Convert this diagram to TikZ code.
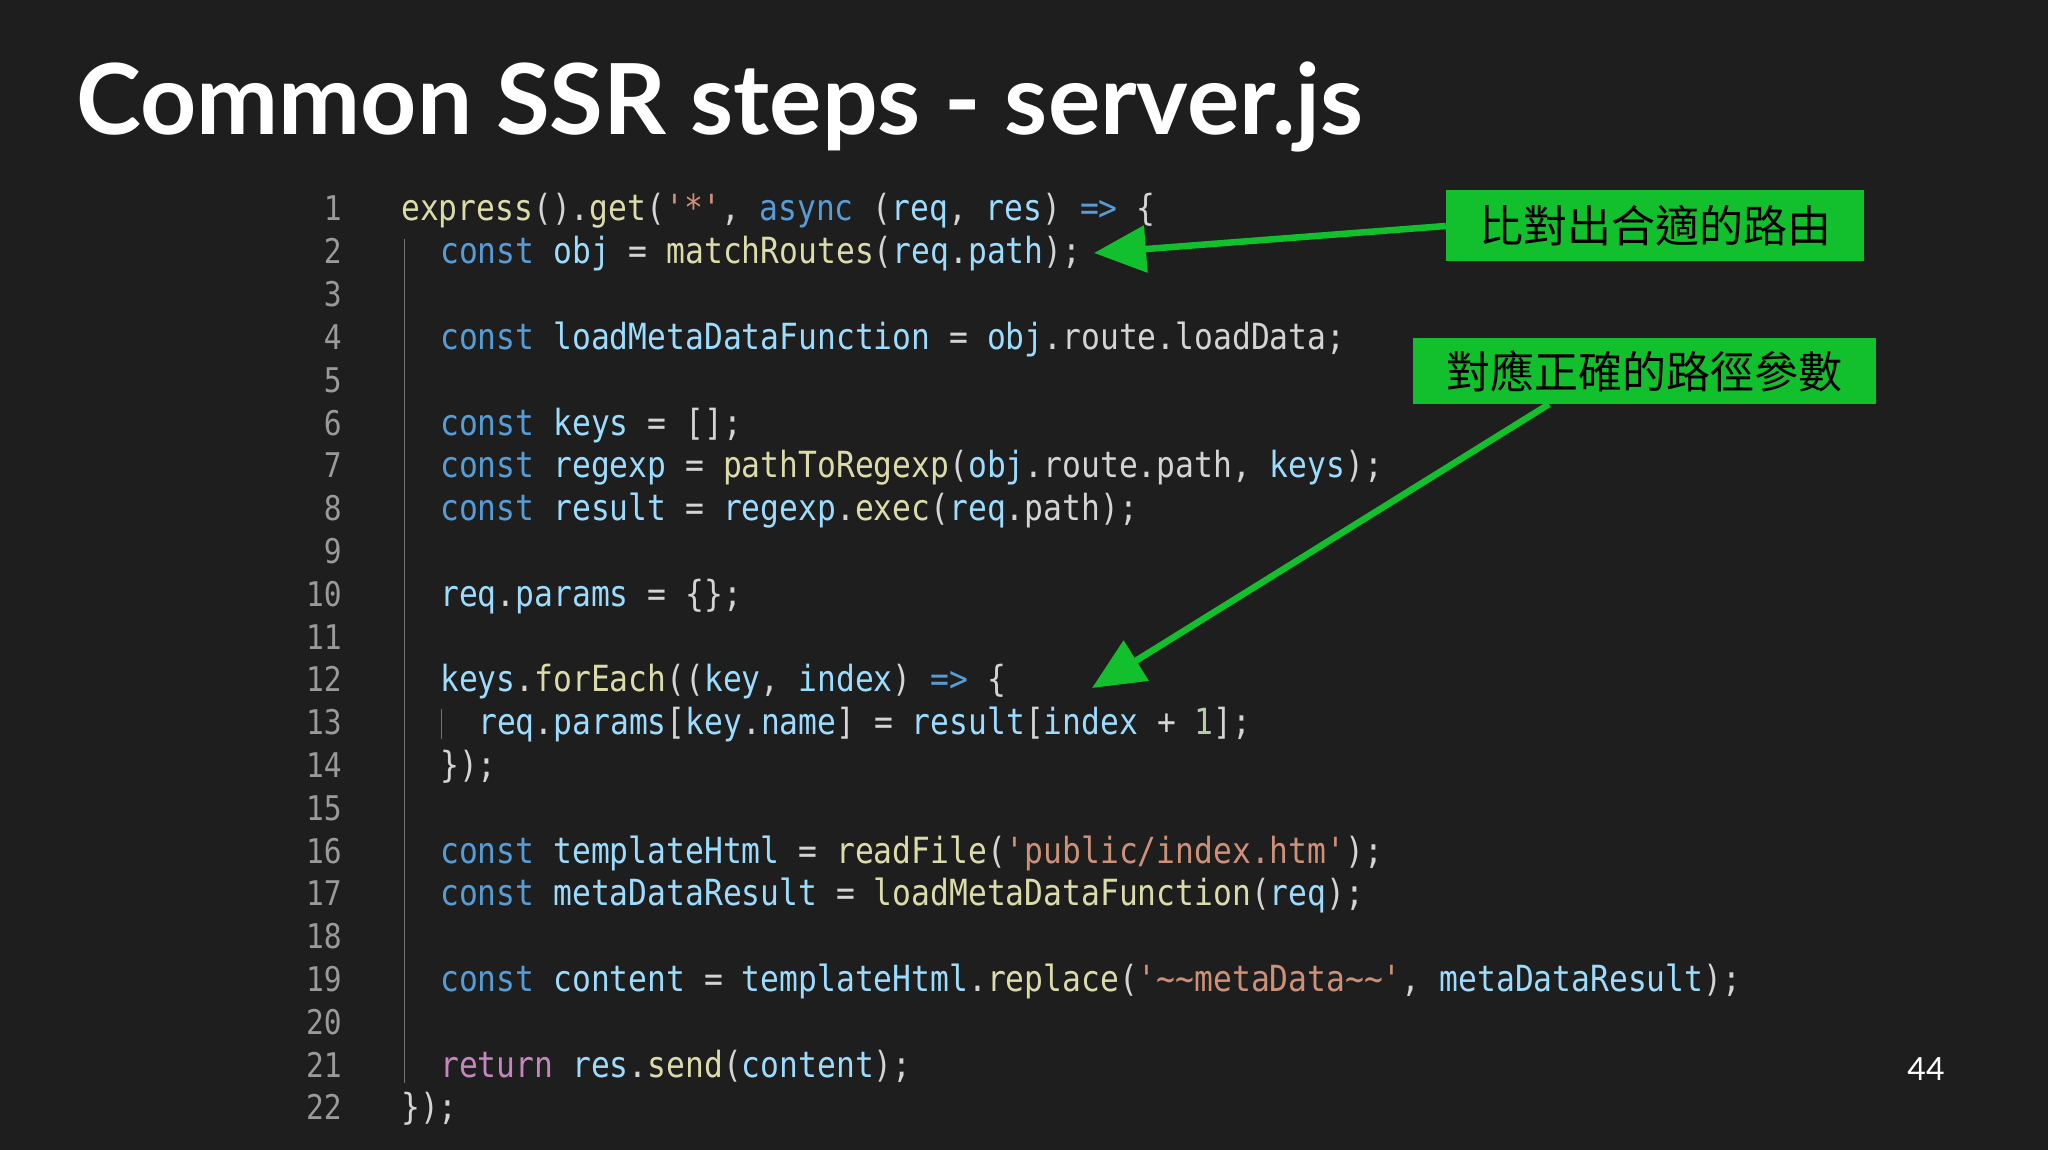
\documentclass[tikz,border=0pt]{standalone}
\usepackage{fontspec}
\usetikzlibrary{arrows.meta}
\setmainfont{Lato}
\newfontfamily\codef[FakeStretch=0.87,Ligatures=TeXOff]{DejaVu Sans Mono}
\newfontfamily\cjk{Noto Sans CJK TC}
\newfontfamily\titlef{Lato}
\definecolor{bg}{HTML}{1E1E1E}
\definecolor{ckw}{HTML}{569CD6}
\definecolor{cvar}{HTML}{9CDCFE}
\definecolor{cfn}{HTML}{DCDCAA}
\definecolor{cstr}{HTML}{CE9178}
\definecolor{cret}{HTML}{C586C0}
\definecolor{ctxt}{HTML}{D4D4D4}
\definecolor{cnum}{HTML}{B5CEA8}
\definecolor{cln}{HTML}{9A9A9A}
\definecolor{cgreen}{HTML}{12C02E}
\newcommand\K[1]{\textcolor{ckw}{#1}}
\newcommand\V[1]{\textcolor{cvar}{#1}}
\newcommand\F[1]{\textcolor{cfn}{#1}}
\newcommand\Str[1]{\textcolor{cstr}{#1}}
\newcommand\R[1]{\textcolor{cret}{#1}}
\newcommand\N[1]{\textcolor{cnum}{#1}}
\newcommand\qq{\symbol{39}}
\begin{document}
\begin{tikzpicture}[x=1pt,y=-1pt,
  code/.style={anchor=base west,inner sep=0pt,font=\codef\fontsize{36}{40}\selectfont,text=ctxt},
  lnum/.style={anchor=base east,inner sep=0pt,font=\codef\fontsize{34}{40}\selectfont,text=cln},
  lab/.style={fill=cgreen,inner sep=0pt,font=\cjk\fontsize{44}{48}\selectfont,text=black},
  arr/.style={cgreen,line width=6.5pt,-{Triangle[length=52pt,width=46pt]}},
  guide/.style={draw=black!55!white,line width=1pt}]
\fill[bg] (0,0) rectangle (2048,1150);
\useasboundingbox (0,0) rectangle (2048,1150);
\node[anchor=base west,inner sep=0pt,text=white,font=\titlef\bfseries\fontsize{98}{100}\selectfont] (title) at (76,135) {Common SSR steps - server.js};
\def\y#1{{221+(#1-1)*42.8}}
\foreach \i in {1,...,22}{\node[lnum] (n\i) at (342,{221+(\i-1)*42.8}) {\i};}
\draw[guide] (404,239) -- (404,1083);
\draw[guide] (441,709) -- (441,739);
\node[code] (l1) at (401,\y1) {\F{express}().\F{get}(\Str{\qq*\qq}, \K{async} (\V{req}, \V{res}) \K{=>} \{};
\node[code] (l2) at (440,\y2) {\K{const} \V{obj} = \F{matchRoutes}(\V{req}.\V{path});};
\node[code] (l4) at (440,\y4) {\K{const} \V{loadMetaDataFunction} = \V{obj}.route.loadData;};
\node[code] (l6) at (440,\y6) {\K{const} \V{keys} = [];};
\node[code] (l7) at (440,\y7) {\K{const} \V{regexp} = \F{pathToRegexp}(\V{obj}.route.path, \V{keys});};
\node[code] (l8) at (440,\y8) {\K{const} \V{result} = \V{regexp}.\F{exec}(\V{req}.path);};
\node[code] (l10) at (440,\y{10}) {\V{req}.\V{params} = \{\};};
\node[code] (l12) at (440,\y{12}) {\V{keys}.\F{forEach}((\V{key}, \V{index}) \K{=>} \{};
\node[code] (l13) at (478,\y{13}) {\V{req}.\V{params}[\V{key}.\V{name}] = \V{result}[\V{index} + \N{1}];};
\node[code] (l14) at (440,\y{14}) {\});};
\node[code] (l16) at (440,\y{16}) {\K{const} \V{templateHtml} = \F{readFile}(\Str{\qq public/index.htm\qq});};
\node[code] (l17) at (440,\y{17}) {\K{const} \V{metaDataResult} = \F{loadMetaDataFunction}(\V{req});};
\node[code] (l19) at (440,\y{19}) {\K{const} \V{content} = \V{templateHtml}.\F{replace}(\Str{\qq\textasciitilde\textasciitilde metaData\textasciitilde\textasciitilde\qq}, \V{metaDataResult});};
\node[code] (l21) at (440,\y{21}) {\R{return} \V{res}.\F{send}(\V{content});};
\node[code] (l22) at (401,\y{22}) {\});};
\node[lab,minimum width=418pt,minimum height=71pt] (b1) at (1655,226) {比對出合適的路由};
\node[lab,minimum width=463pt,minimum height=66pt] (b2) at (1644,371) {對應正確的路徑參數};
\coordinate (t1) at (1094,253);
\coordinate (t2) at (1092,688);
\draw[arr] (b1.west) -- (t1);
\draw[arr] (b2.south) ++(-95,0) coordinate (s2) -- (t2);
\node[anchor=base,inner sep=0pt,text=white,font=\fontsize{32}{34}\selectfont] (pg) at (1926,1080) {44};
\end{tikzpicture}
\end{document}
